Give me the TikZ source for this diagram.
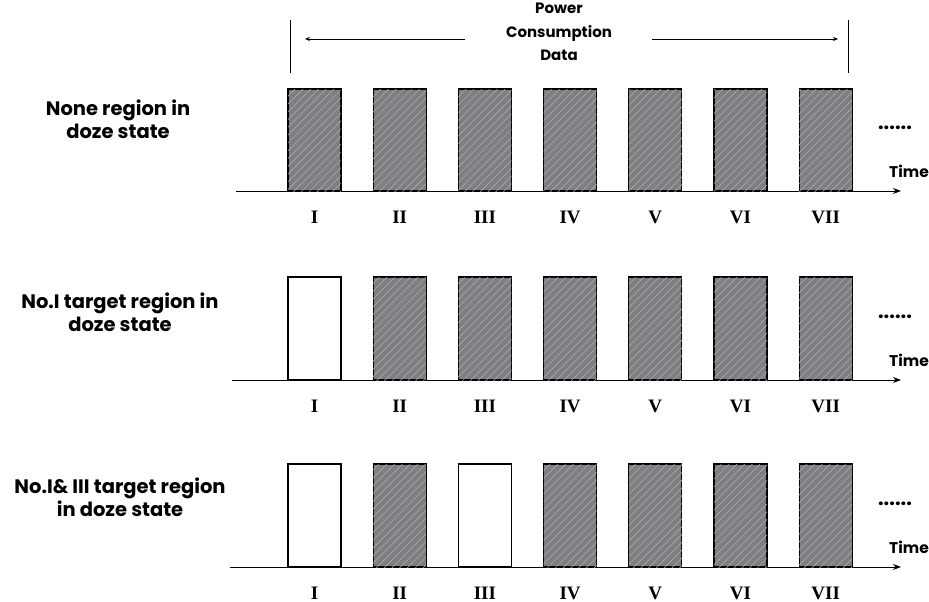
\documentclass[tikz,border=0pt]{standalone}
\usepackage{fontspec}
\setmainfont{Poppins}
\newfontfamily\numfont{Liberation Serif}
\usetikzlibrary{patterns.meta,arrows.meta}
\definecolor{barfill}{HTML}{7F7F7F}
\definecolor{hatch}{HTML}{A8B4C8}
\begin{document}
\begin{tikzpicture}[x=1pt,y=-1pt,
  fullbar/.style={draw=black,line width=1.2pt,fill=barfill,
    postaction={pattern={Lines[angle=45,distance=5.5pt,line width=0.5pt]},pattern color=hatch}},
  emptybar/.style={draw=black,line width=1.2pt,fill=white},
  axisline/.style={line width=1pt,-{Stealth[length=8pt,width=6pt]}},
  lbl/.style={font=\bfseries\fontsize{19.5}{23}\selectfont,align=center},
  toplbl/.style={font=\bfseries\fontsize{15}{23.5}\selectfont,align=center},
  timelbl/.style={font=\bfseries\fontsize{15.5}{16}\selectfont},
  dots/.style={font=\bfseries\fontsize{20}{20}\selectfont},
  numlbl/.style={font=\numfont\bfseries\fontsize{19}{19}\selectfont}]
\useasboundingbox (0,0) rectangle (929,602);
% top annotation
\node[toplbl] (pcd) at (559,32) {Power\\Consumption\\Data};
\coordinate (vl1) at (290,20); \coordinate (vl1b) at (290,73);
\coordinate (vl2) at (848,20); \coordinate (vl2b) at (848,73);
\draw[line width=0.8pt] (vl1) -- (vl1b);
\draw[line width=0.8pt] (vl2) -- (vl2b);
\coordinate (al) at (305,39); \coordinate (ar) at (838,39);
\coordinate (als) at (465,39); \coordinate (ars) at (652,39);
\draw[line width=0.7pt,-{Stealth[length=5pt,width=4pt]}] (als) -- (al);
\draw[line width=0.7pt,-{Stealth[length=5pt,width=4pt]}] (ars) -- (ar);
% rows
\foreach \row/\ytop/\ybase/\xs/\empt in {1/89/191/236/{},2/277/380/232/{1},3/464/567/230/{1,3}}{
  \coordinate (ax\row s) at (\xs,\ybase);
  \coordinate (ax\row e) at (901,\ybase);
  \draw[axisline] (ax\row s) -- (ax\row e);
  \foreach \i/\num [count=\k] in {0/I,1/II,2/III,3/IV,4/V,5/VI,6/VII}{
    \pgfmathsetmacro{\xl}{288+85.2*\i}
    \def\isempty{0}
    \foreach \e in \empt {\ifnum\e=\k\relax\xdef\isempty{1}\fi}
    \ifnum\isempty=1\relax
      \draw[emptybar] (\xl,\ytop) rectangle ++(53,\ybase-\ytop) coordinate (b\row\k);
    \else
      \draw[fullbar] (\xl,\ytop) rectangle ++(53,\ybase-\ytop) coordinate (b\row\k);
    \fi
    \xdef\isempty{0}
    \node[numlbl] (n\row\k) at (\xl+26.5,\ybase+26) {\num};
  }
  \node[timelbl] (t\row) at (909,\ybase-20) {Time};
  \node[dots] (d\row) at (895,\ybase-63) {......};
}
\node[lbl] (l1) at (118,119) {None region in\\doze state};
\node[lbl] (l2) at (120,312) {No.I target region in\\doze state};
\node[lbl] (l3) at (120,497) {No.I\& III target region\\in doze state};
\end{tikzpicture}
\end{document}
